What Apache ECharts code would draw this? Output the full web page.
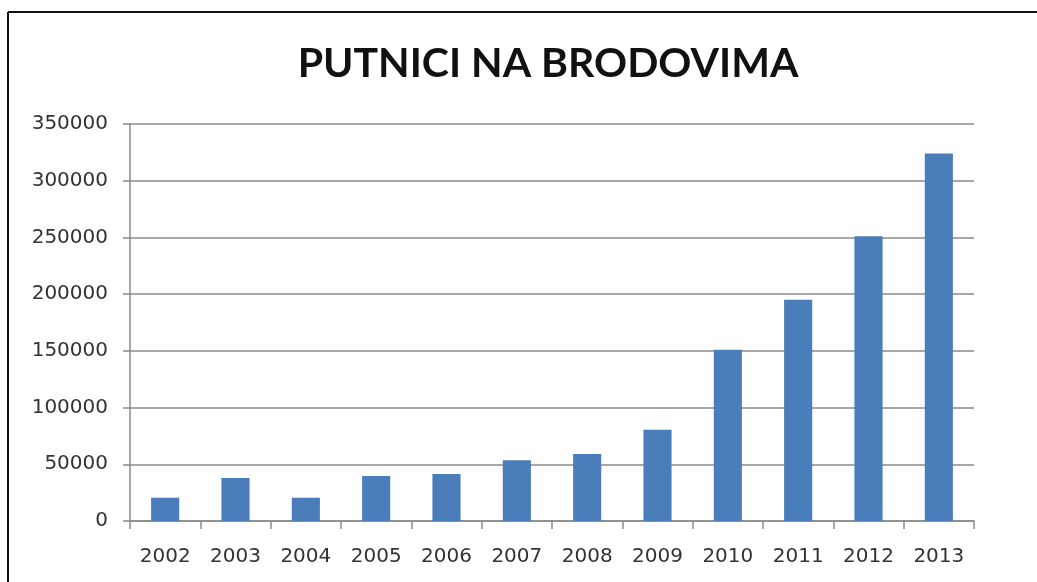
<!DOCTYPE html>
<html>
<head>
<meta charset="utf-8">
<title>Putnici na brodovima</title>
<script src="https://cdn.jsdelivr.net/npm/echarts@6/dist/echarts.min.js"></script>
<style>
  html, body { margin: 0; padding: 0; background: #ffffff; }
  #chart { width: 1037px; height: 582px; }
</style>
</head>
<body>
<div id="chart"></div>
<script>
// Years shown on the category axis
const years = ['2002', '2003', '2004', '2005', '2006', '2007', '2008', '2009', '2010', '2011', '2012', '2013'];
// Passengers on ships per year
const passengers = [20500, 38000, 20500, 39700, 41500, 53500, 59000, 80500, 151000, 195000, 251000, 324000];
// Value axis range and step
const yMin = 0;
const yMax = 350000;
const yStep = 50000;

const chart = echarts.init(document.getElementById('chart'), null, { renderer: 'canvas' });

const axisGray = '#8a8a8a';
const labelFont = { fontFamily: 'DejaVu Sans', fontSize: 20, color: '#333333' };

chart.setOption({
  backgroundColor: '#ffffff',
  animation: false,
  title: {
    text: 'PUTNICI NA BRODOVIMA',
    left: 543,
    top: 38,
    textAlign: 'center',
    textStyle: {
      fontFamily: 'Lato',
      fontWeight: 'bold',
      fontSize: 41,
      color: '#111111'
    }
  },
  graphic: [
    {
      type: 'line',
      shape: { x1: 8, y1: 12, x2: 8, y2: 582 },
      style: { stroke: '#111111', lineWidth: 2 }
    },
    {
      type: 'line',
      shape: { x1: 8, y1: 12, x2: 1037, y2: 12 },
      style: { stroke: '#111111', lineWidth: 2 }
    }
  ],
  grid: {
    left: 130,
    right: 63,
    top: 124,
    bottom: 61,
    containLabel: false
  },
  xAxis: {
    type: 'category',
    data: years,
    boundaryGap: true,
    axisLine: { show: true, lineStyle: { color: axisGray, width: 1.5 } },
    axisTick: { show: true, length: 8, lineStyle: { color: axisGray, width: 1.5 } },
    axisLabel: Object.assign({ margin: 26 }, labelFont),
    splitLine: { show: false }
  },
  yAxis: {
    type: 'value',
    min: yMin,
    max: yMax,
    interval: yStep,
    axisLine: { show: true, lineStyle: { color: axisGray, width: 1.5 } },
    axisTick: { show: true, length: 7, lineStyle: { color: axisGray, width: 1.5 } },
    axisLabel: Object.assign({ margin: 22, formatter: (v) => String(v) }, labelFont),
    splitLine: { show: true, lineStyle: { color: axisGray, width: 1.5 } }
  },
  series: [
    {
      type: 'bar',
      data: passengers,
      barWidth: '40%',
      itemStyle: { color: '#4A7EBB' }
    }
  ]
});
</script>
</body>
</html>
